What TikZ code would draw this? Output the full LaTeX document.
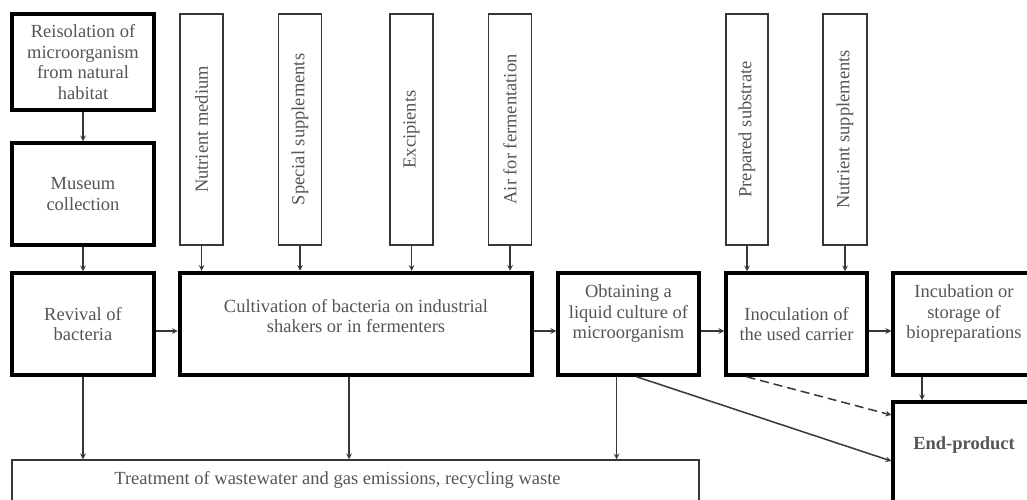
\documentclass[tikz,border=0pt]{standalone}
\usepackage{fontspec}
\setmainfont{Liberation Serif}
\definecolor{txtgray}{RGB}{85,85,85}
\definecolor{linegray}{RGB}{55,55,55}
\begin{document}
\begin{tikzpicture}[x=1pt, y=-1pt, font=\fontsize{18.5}{20.5}\selectfont, >=stealth,
    stage/.style={draw=black, line width=3.5pt, align=center, text=txtgray, inner sep=0pt, minimum width=142pt, minimum height=102pt},
    input/.style={draw=linegray, line width=1.5pt, text=txtgray, inner sep=0pt, minimum width=43pt, minimum height=231pt},
    flow/.style={->, draw=linegray, line width=1.5pt}]
    \useasboundingbox (0,0) rectangle (1027,500);
    \clip (0,0) rectangle (1027,500);
    % left column
    \node[stage, minimum height=96pt] (reiso) at (83,62) {Reisolation of\\microorganism\\from natural\\habitat};
    \node[stage] (museum) at (83,194) {Museum\\collection};
    \node[stage] (revival) at (83,324) {Revival of\\bacteria};
    % main line
    \node[stage, minimum width=352pt, line width=4.5pt, text depth=16pt] (cultiv) at (356,324) {Cultivation of bacteria on industrial\\shakers or in fermenters};
    \node[stage, minimum width=141pt, text depth=24pt] (obtain) at (628.5,324) {Obtaining a\\liquid culture of\\microorganism};
    \node[stage, minimum width=141pt] (inocul) at (796.5,324) {Inoculation of\\the used carrier};
    \node[stage, text depth=24pt] (incub) at (964,324) {Incubation or\\storage of\\biopreparations};
    \node[stage, minimum height=118pt, text depth=36pt, font=\fontsize{18.5}{20.5}\selectfont\bfseries] (endprod) at (964,461) {End-product};
    \node[draw=linegray, line width=1.5pt, text=txtgray, inner sep=0pt, minimum width=687pt, minimum height=60pt, text depth=24pt] (treat) at (355.5,490) {Treatment of wastewater and gas emissions, recycling waste\kern36pt};
    % inputs
    \node[input] (nutmed) at (201.5,129.5) {\rotatebox{90}{Nutrient medium}};
    \node[input] (specsup) at (300,129.5) {\rotatebox{90}{Special supplements}};
    \node[input] (excip) at (411.5,129.5) {\rotatebox{90}{Excipients}};
    \node[input] (airferm) at (510,129.5) {\rotatebox{90}{Air for fermentation}};
    \node[input, minimum width=42pt] (prepsub) at (747,129.5) {\rotatebox{90}{Prepared substrate}};
    \node[input, minimum width=44pt] (nutsup) at (845,129.5) {\rotatebox{90}{Nutrient supplements}};
    % arrows
    \draw[flow] (reiso) -- (museum);
    \draw[flow] (museum) -- (revival);
    \foreach \n in {nutmed,specsup,excip,airferm}
        \draw[flow] (\n) -- (\n |- cultiv.north);
    \foreach \n in {prepsub,nutsup}
        \draw[flow] (\n) -- (\n |- inocul.north);
    \draw[flow] ([yshift=-7pt]revival.east) -- ([yshift=-7pt]cultiv.west);
    \draw[flow] ([yshift=-7pt]cultiv.east) -- ([yshift=-7pt]obtain.west);
    \draw[flow] ([yshift=-7pt]obtain.east) -- ([yshift=-7pt]inocul.west);
    \draw[flow] ([yshift=-7pt]inocul.east) -- ([yshift=-7pt]incub.west);
    \draw[flow] (revival) -- (revival |- treat.north);
    \draw[flow] ([xshift=-7pt]cultiv.south) -- ([xshift=-7pt]cultiv.south |- treat.north);
    \draw[flow] ([xshift=-12pt]obtain.south) -- ([xshift=-12pt]obtain.south |- treat.north);
    \draw[flow] ([xshift=-42pt]incub.south) -- ([xshift=-42pt]incub.south |- endprod.north);
    \draw[flow] ([xshift=8pt]obtain.south) -- (endprod.west);
    \draw[flow, dash pattern=on 9pt off 5pt] ([xshift=-50pt]inocul.south) -- ([yshift=46pt]endprod.west);
\end{tikzpicture}
\end{document}
